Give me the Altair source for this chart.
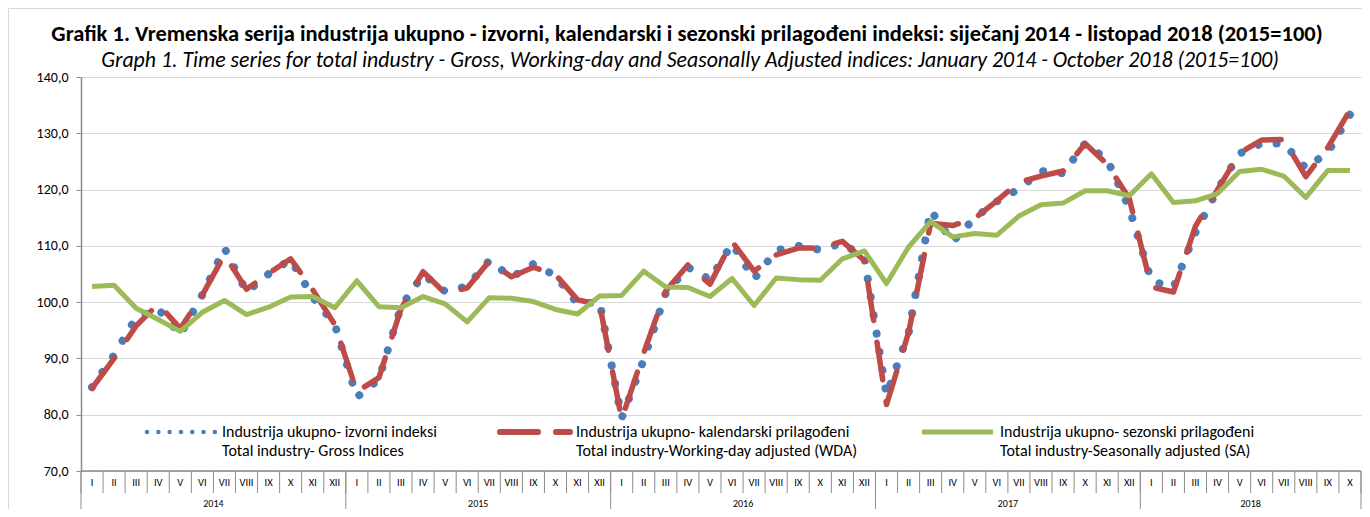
import altair as alt
import pandas as pd

# ---------------- data ----------------
months_roman = ["I", "II", "III", "IV", "V", "VI", "VII", "VIII", "IX", "X", "XI", "XII"]
years = ["2014", "2015", "2016", "2017", "2018"]
months_per_year = [12, 12, 12, 12, 10]

gross = [84.9, 90.6, 97.3, 98.8, 94.2, 101.3, 109.6, 101.8, 105.0, 107.6, 100.9, 96.0,
         83.1, 86.3, 99.2, 104.9, 101.9, 102.8, 107.4, 104.4, 106.8, 104.7, 99.7, 100.0,
         79.4, 89.8, 101.6, 106.2, 104.0, 110.4, 104.1, 109.2, 110.0, 109.3, 110.5, 107.8,
         83.5, 94.5, 116.3, 110.7, 115.0, 117.9, 120.1, 123.3, 122.9, 128.2, 125.3, 116.7,
         103.8, 102.6, 112.4, 120.0, 126.4, 128.2, 128.2, 123.8, 126.6, 133.3]

wda = [84.7, 90.0, 95.8, 99.7, 95.3, 101.3, 108.4, 102.3, 105.1, 107.7, 102.2, 96.0,
       84.1, 86.6, 98.8, 105.4, 101.6, 102.5, 107.3, 104.5, 106.2, 104.9, 100.4, 99.6,
       79.2, 91.0, 102.0, 106.6, 103.2, 110.8, 105.5, 108.4, 109.6, 109.6, 110.8, 107.4,
       81.8, 94.6, 114.0, 113.6, 114.9, 118.0, 121.3, 122.4, 123.3, 128.2, 124.5, 118.4,
       102.7, 101.8, 113.5, 120.0, 126.5, 128.8, 128.9, 122.3, 127.5, 134.1]

sa = [102.8, 103.0, 98.9, 96.9, 94.8, 98.2, 100.3, 97.8, 99.1, 100.9, 101.0, 99.0,
      103.8, 99.2, 99.0, 101.0, 99.7, 96.5, 100.8, 100.7, 100.1, 98.7, 97.9, 101.1,
      101.2, 105.5, 102.7, 102.6, 101.0, 104.2, 99.4, 104.3, 104.0, 103.9, 107.7, 109.1,
      103.3, 109.8, 114.3, 111.6, 112.2, 111.9, 115.3, 117.3, 117.6, 119.8, 119.8, 118.9,
      122.8, 117.7, 118.0, 119.3, 123.2, 123.6, 122.4, 118.6, 123.4, 123.4]

y_ticks = [70, 80, 90, 100, 110, 120, 130, 140]

title_hr = ("Grafik 1. Vremenska serija industrija ukupno - izvorni, kalendarski i sezonski "
            "prilagođeni indeksi: siječanj 2014 - listopad 2018 (2015=100)")
title_en = ("Graph 1. Time series for total industry - Gross, Working-day and Seasonally "
            "Adjusted indices: January 2014 - October 2018 (2015=100)")
legend_l1 = ["Industrija ukupno- izvorni indeksi",
             "Industrija ukupno- kalendarski prilagođeni",
             "Industrija ukupno- sezonski prilagođeni"]
legend_l2 = ["Total industry- Gross Indices",
             "Total industry-Working-day adjusted (WDA)",
             "Total industry-Seasonally adjusted (SA)"]

# ---------------- layout / style ----------------
W, H = 1280, 394
FONT = "Carlito, Lato, sans-serif"
BLUE, RED, GREEN = "#4A7EBB", "#BE4B48", "#9BBB59"
AXIS_GRAY = "#8C8C8C"

n = len(gross)
month_labels = [months_roman[k] for cnt in months_per_year for k in range(cnt)]

rows = []
for i in range(n):
    for key, arr in (("gross", gross), ("wda", wda), ("sa", sa)):
        rows.append({"x": i + 0.5, "series": key, "value": arr[i]})
df = pd.DataFrame(rows)

xs = alt.Scale(domain=[0, n], nice=False, zero=False)
ys = alt.Scale(domain=[70, 140], nice=False, zero=False)

yaxis = alt.Axis(values=y_ticks,
                 labelExpr="replace(format(datum.value, '.1f'), '.', ',')",
                 title=None, grid=True, gridColor="#D9D9D9", gridWidth=1,
                 domainColor=AXIS_GRAY, domainWidth=1.5, tickColor=AXIS_GRAY,
                 tickSize=5, tickWidth=1, labelPadding=8, labelFont=FONT,
                 labelFontSize=14, labelColor="#000000")

base = alt.Chart(df)


def series_line(key, **kw):
    return base.transform_filter(alt.datum.series == key).mark_line(**kw).encode(
        x=alt.X("x:Q", scale=xs, axis=None),
        y=alt.Y("value:Q", scale=ys, axis=yaxis),
        order="x:Q",
    )


gross_line = series_line("gross", color=BLUE, strokeWidth=8, strokeDash=[0.01, 18.5],
                         strokeCap="round", strokeJoin="round")
wda_line = series_line("wda", color=RED, strokeWidth=5.5, strokeDash=[38, 22],
                       strokeCap="round", strokeJoin="round")
sa_line = series_line("sa", color=GREEN, strokeWidth=5, strokeJoin="round")

# x axis (two-level categories)
one = pd.DataFrame({"a": [0]})
axis_line = alt.Chart(one).mark_rule(color=AXIS_GRAY, strokeWidth=1.5).encode(
    x=alt.value(0), x2=alt.value(W), y=alt.value(H))

mdf = pd.DataFrame({"x": [i + 0.5 for i in range(n)], "label": month_labels})
month_text = alt.Chart(mdf).mark_text(font=FONT, fontSize=10.5, color="#000",
                                      baseline="middle").encode(
    x=alt.X("x:Q", scale=xs, axis=None), y=alt.value(H + 12), text="label:N")

mb = pd.DataFrame({"b": list(range(n + 1))})
month_sep = alt.Chart(mb).mark_rule(color=AXIS_GRAY, strokeWidth=1).encode(
    x=alt.X("b:Q", scale=xs, axis=None), y=alt.value(H), y2=alt.value(H + 22))

bounds = [0]
for c in months_per_year:
    bounds.append(bounds[-1] + c)
yb = pd.DataFrame({"b": bounds})
year_sep = alt.Chart(yb).mark_rule(color=AXIS_GRAY, strokeWidth=1).encode(
    x=alt.X("b:Q", scale=xs, axis=None), y=alt.value(H), y2=alt.value(H + 40))

ydf = pd.DataFrame({"x": [(bounds[k] + bounds[k + 1]) / 2 for k in range(len(years))],
                    "label": years})
year_text = alt.Chart(ydf).mark_text(font=FONT, fontSize=10, color="#000",
                                     baseline="alphabetic").encode(
    x=alt.X("x:Q", scale=xs, axis=None), y=alt.value(H + 35.5), text="label:N")

# titles
tdf = pd.DataFrame({"t1": [title_hr], "t2": [title_en]})
title1 = alt.Chart(tdf).mark_text(font=FONT, fontSize=22.5, fontWeight="bold", color="#000",
                                  align="center", baseline="middle").encode(
    x=alt.value(606), y=alt.value(-43.5), text="t1:N")
title2 = alt.Chart(tdf).mark_text(font=FONT, fontSize=21.8, fontStyle="italic", color="#000",
                                  align="center", baseline="middle").encode(
    x=alt.value(609), y=alt.value(-17.5), text="t2:N")

# legend
leg_y1, leg_y2 = 355, 374
leg_blue = alt.Chart(one).mark_rule(color=BLUE, strokeWidth=4.5, strokeDash=[0.01, 11.3],
                                    strokeCap="round").encode(
    x=alt.value(66), x2=alt.value(134.5), y=alt.value(leg_y1))
leg_red = alt.Chart(one).mark_rule(color=RED, strokeWidth=6, strokeDash=[38, 18],
                                   strokeCap="round").encode(
    x=alt.value(419), x2=alt.value(489), y=alt.value(leg_y1))
leg_green = alt.Chart(one).mark_rule(color=GREEN, strokeWidth=5).encode(
    x=alt.value(841), x2=alt.value(912), y=alt.value(leg_y1))

leg_x = [141, 495, 919]
ldf = pd.DataFrame({"l1": legend_l1, "l2": legend_l2, "px": leg_x})
leg_text1 = alt.Chart(ldf).mark_text(font=FONT, fontSize=16, color="#000", align="left",
                                     baseline="middle").encode(
    x=alt.X("px:Q", scale=None), y=alt.value(leg_y1), text="l1:N")
leg_text2 = alt.Chart(ldf).mark_text(font=FONT, fontSize=16, color="#000", align="left",
                                     baseline="middle").encode(
    x=alt.X("px:Q", scale=None), y=alt.value(leg_y2), text="l2:N")

border = alt.Chart(one).mark_rect(fill=None, stroke="#D9D9D9", strokeWidth=1).encode(
    x=alt.value(-72.5), x2=alt.value(W + 40), y=alt.value(-68.5), y2=alt.value(H + 80))

chart = alt.layer(
    border, gross_line, wda_line, sa_line,
    axis_line, month_sep, year_sep, month_text, year_text,
    title1, title2,
    leg_blue, leg_red, leg_green, leg_text1, leg_text2,
).properties(
    width=W, height=H,
    padding={"left": 73, "top": 69, "right": 1, "bottom": 38},
    autosize=alt.AutoSizeParams(type="none"),
).configure_view(stroke=None)

chart.save("out.html", embed_options={"renderer": "svg", "actions": False})
